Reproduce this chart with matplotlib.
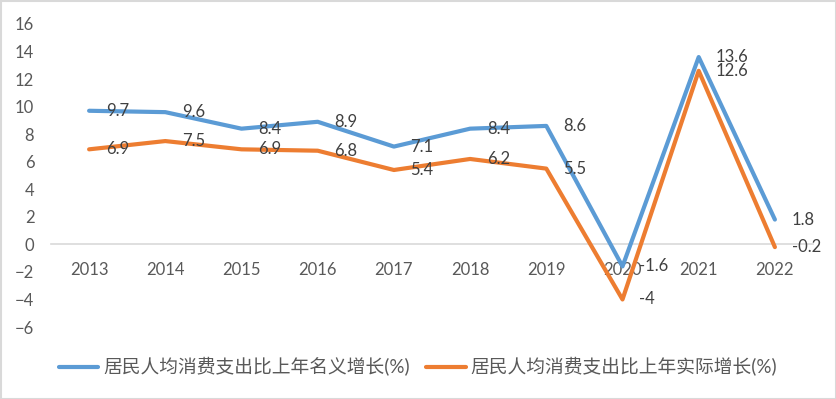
import matplotlib
matplotlib.use("Agg")
import matplotlib.pyplot as plt
from matplotlib.patches import Rectangle

years = ["2013", "2014", "2015", "2016", "2017", "2018", "2019", "2020", "2021", "2022"]
nominal = [9.7, 9.6, 8.4, 8.9, 7.1, 8.4, 8.6, -1.6, 13.6, 1.8]
real = [6.9, 7.5, 6.9, 6.8, 5.4, 6.2, 5.5, -4, 12.6, -0.2]
name_nominal = "居民人均消费支出比上年名义增长(%)"
name_real = "居民人均消费支出比上年实际增长(%)"

plt.rcParams['font.family'] = ['Lato', 'Noto Sans CJK SC', 'DejaVu Sans']
gray = "#595959"

fig = plt.figure(figsize=(8.36, 3.99), dpi=100)
ax = fig.add_axes([51/836, 1-327/399, (813-51)/836, (327-24)/399])

x = list(range(len(years)))
l1, = ax.plot(x, nominal, color="#5B9BD5", lw=3.0, solid_capstyle='round', solid_joinstyle='round', label=name_nominal)
l2, = ax.plot(x, real, color="#ED7D31", lw=3.0, solid_capstyle='round', solid_joinstyle='round', label=name_real)

for xi, v in zip(x, nominal):
    ax.annotate(f"{v:g}", (xi, v), xytext=(12, 0), textcoords='offset points',
                ha='left', va='center', fontsize=12, color="#404040")
for xi, v in zip(x, real):
    ax.annotate(f"{v:g}", (xi, v), xytext=(12, 0), textcoords='offset points',
                ha='left', va='center', fontsize=12, color="#404040")

ax.set_xlim(-0.5, len(years) - 0.5)
ax.set_ylim(-6, 16)
ax.set_yticks(range(-6, 17, 2))
ax.set_xticks(x)
ax.set_xticklabels(years)
for s in ['top', 'right', 'left']:
    ax.spines[s].set_visible(False)
ax.spines['bottom'].set_position(('data', 0))
ax.spines['bottom'].set_color("#d9d9d9")
ax.spines['bottom'].set_linewidth(1.2)
ax.spines['bottom'].set_zorder(0)
ax.tick_params(axis='both', length=0, labelsize=12, labelcolor=gray)
ax.tick_params(axis='x', pad=13)
ax.tick_params(axis='y', pad=12)

fig.legend(handles=[l1, l2], loc='center', bbox_to_anchor=(0.5, 1-367/399), ncol=2,
           frameon=False, fontsize=13.5, labelcolor=gray, handlelength=2.1,
           handletextpad=0.25, columnspacing=0.9)

fig.patches.append(Rectangle((0.5/836, 0.5/399), 1-1/836, 1-1/399, transform=fig.transFigure,
                             fill=False, edgecolor="#d9d9d9", lw=1.5))

fig.savefig("out.png", dpi=100)
